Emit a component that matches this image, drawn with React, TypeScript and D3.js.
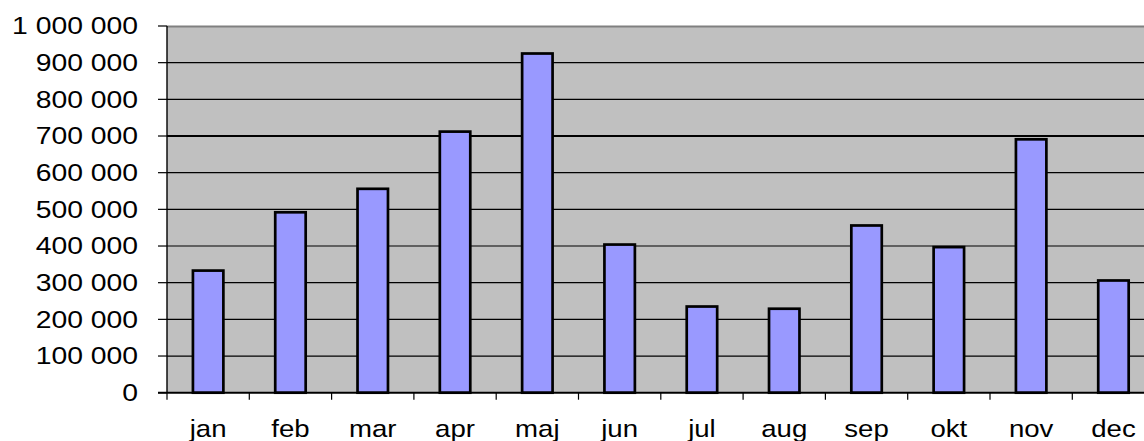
import React from "react";
import * as d3 from "d3";

const months = ["jan", "feb", "mar", "apr", "maj", "jun", "jul", "aug", "sep", "okt", "nov", "dec"];
const values = [333000, 492000, 556000, 712000, 925000, 404000, 235000, 229000, 456000, 397000, 691000, 306000];
const yTicks = [0, 100000, 200000, 300000, 400000, 500000, 600000, 700000, 800000, 900000, 1000000];

const W = 1144;
const H = 441;
const left = 167;
const step = 82.3;
const top = 26;
const bottom = 392.7;

const fmt = (v: number) => d3.format(",")(v).replace(/,/g, " ");

export default function App() {
  const x = d3.scaleBand<string>().domain(months).range([left, left + step * months.length]).padding(0);
  const y = d3.scaleLinear().domain([0, 1000000]).range([bottom, top]);
  const bw = x.step() * 0.37;
  const right = left + step * months.length;
  const font = "'Liberation Sans', Arial, sans-serif";

  return (
    <svg width={W} height={H} style={{ position: "absolute", left: 0, top: 0, background: "#fff" }}>
      <rect x={left} y={top} width={right - left} height={bottom - top} fill="#C0C0C0" />
      {yTicks.filter((t) => t > 0 && t < 1000000).map((t) => (
        <line key={t} x1={left} x2={right} y1={y(t)} y2={y(t)} stroke="#000" strokeWidth={t === 700000 ? 2 : 1.2} />
      ))}
      <line x1={left} x2={right} y1={top + 0.5} y2={top + 0.5} stroke="#808080" strokeWidth={2} />
      {months.map((m, i) => (
        <rect
          key={m}
          x={(x(m) as number) + x.bandwidth() / 2 - bw / 2}
          y={y(values[i])}
          width={bw}
          height={y(0) - y(values[i])}
          fill="#9999FF"
          stroke="#000"
          strokeWidth={2.7}
        />
      ))}
      <line x1={left} x2={left} y1={top} y2={bottom} stroke="#000" strokeWidth={1.4} />
      <line x1={left - 9} x2={right} y1={bottom} y2={bottom} stroke="#000" strokeWidth={2} />
      {yTicks.map((t) => (
        <line key={"yt" + t} x1={left - 9} x2={left} y1={y(t)} y2={y(t)} stroke="#000" strokeWidth={1.2} />
      ))}
      {months.map((m) => (
        <line key={"xt" + m} x1={x(m) as number} x2={x(m) as number} y1={bottom} y2={bottom + 7} stroke="#000" strokeWidth={1.2} />
      ))}
      {yTicks.map((t) => (
        <text
          key={"yl" + t}
          transform={`translate(138,${y(t)}) scale(1.18,1)`}
          textAnchor="end"
          dominantBaseline="central"
          fontFamily={font}
          fontSize={24}
          fill="#000"
        >
          {fmt(t)}
        </text>
      ))}
      {months.map((m) => (
        <text
          key={"xl" + m}
          transform={`translate(${(x(m) as number) + x.bandwidth() / 2},437.3) scale(1.15,1)`}
          textAnchor="middle"
          fontFamily={font}
          fontSize={24}
          fill="#000"
        >
          {m}
        </text>
      ))}
    </svg>
  );
}
